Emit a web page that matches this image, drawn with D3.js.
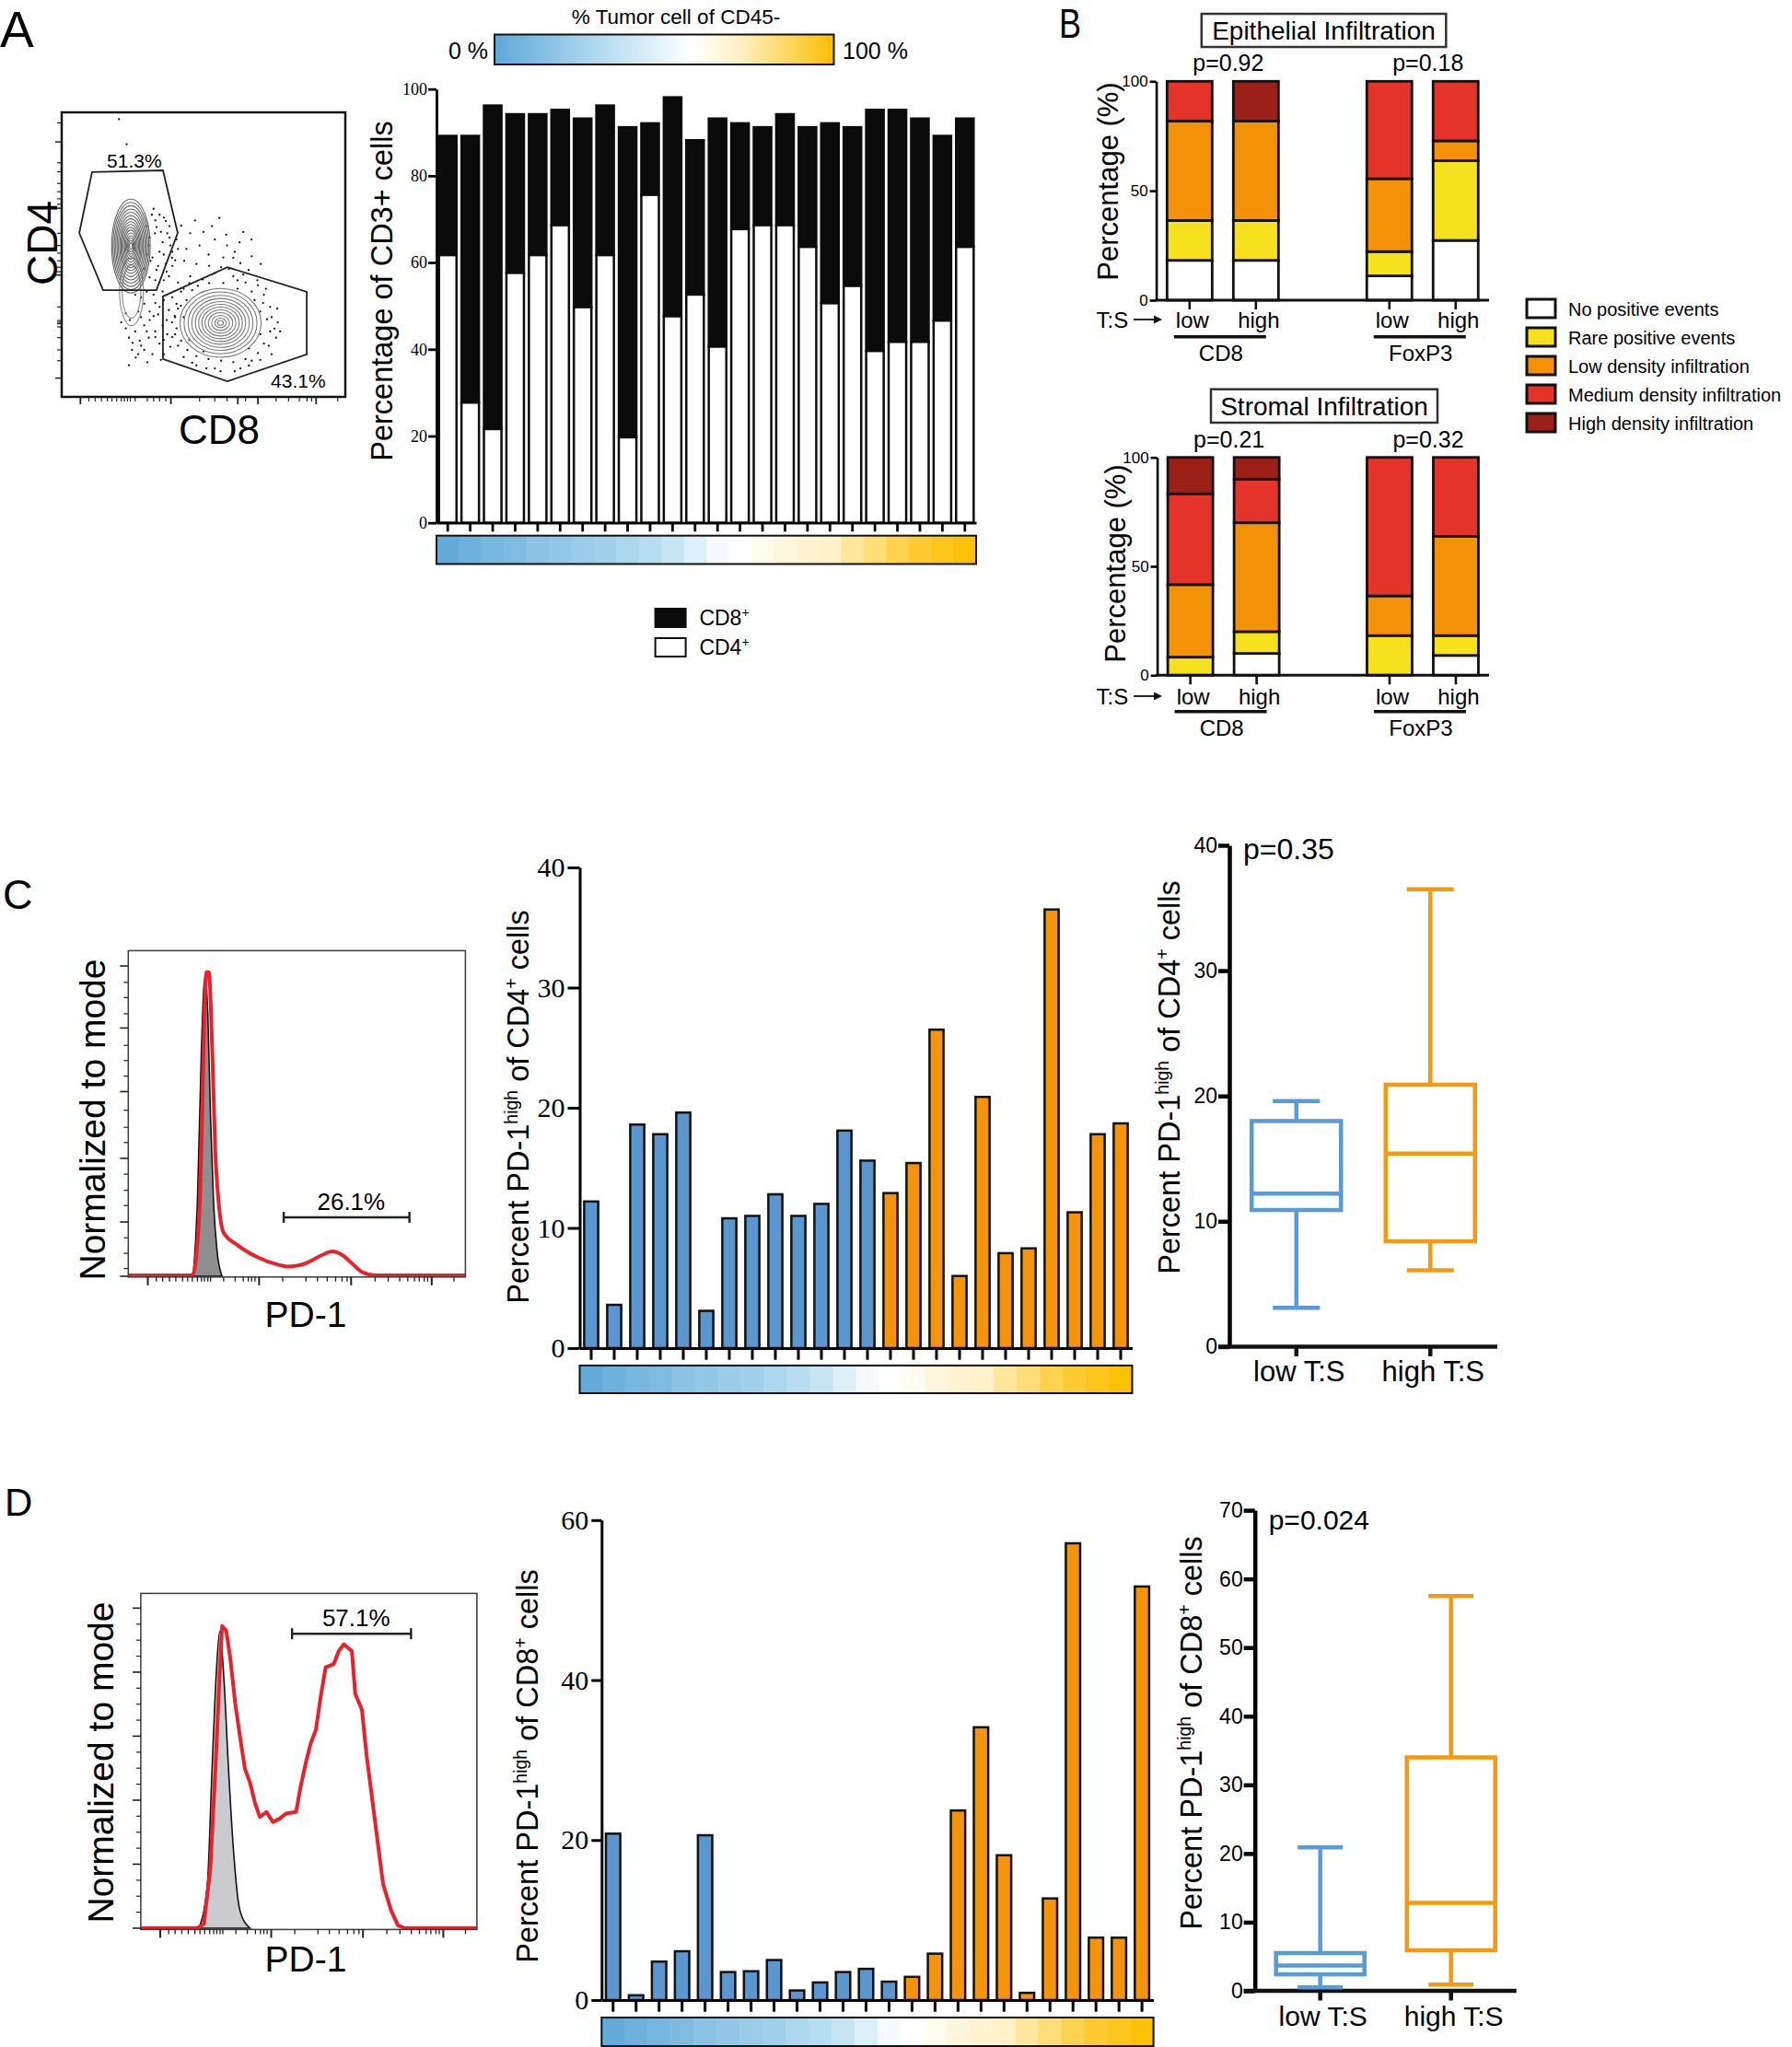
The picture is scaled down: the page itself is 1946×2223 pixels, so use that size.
<!DOCTYPE html>
<html><head><meta charset="utf-8">
<script src="https://cdn.jsdelivr.net/npm/d3@7/dist/d3.min.js"></script>
<style>
html,body{margin:0;padding:0;background:#fff;}
svg{display:block;}
text{fill:#000;}
</style></head><body>
<svg id="fig" width="1946" height="2223" viewBox="0 0 1946 2223"></svg>
<script>
// ======================= DATA =======================
const sampleIds = ["P01","P02","P03","P04","P05","P06","P07","P08","P09","P10","P11","P12","P13","P14","P15","P16","P17","P18","P19","P20","P21","P22","P23","P24"];
const tumorPct  = [2,6,9,12,17,19,22,24,28,33,38,46,54,58,62,66,69,71,78,83,89,93,96,99];
const cd4OfCD3  = [61.7,27.7,21.6,57.6,61.7,68.6,49.7,61.7,19.7,75.6,47.6,52.6,40.6,67.7,68.6,68.6,63.6,50.6,54.6,39.6,41.7,41.7,46.6,63.6];
const cd8OfCD3  = [27.5,61.5,74.6,36.6,32.5,26.6,43.5,34.5,71.5,16.5,50.5,35.6,52.6,24.4,22.6,25.6,27.6,41.5,36.6,55.6,53.5,51.5,42.6,29.6];
const tsGroup   = ["low","low","low","low","low","low","low","low","low","low","low","low","low","high","high","high","high","high","high","high","high","high","high","high"];
const pd1HighCD4 = [12.2,3.6,18.6,17.8,19.6,3.1,10.8,11.0,12.8,11.0,12.0,18.1,15.6,12.9,15.4,26.5,6.0,20.9,7.9,8.3,36.5,11.3,17.8,18.7];
const pd1HighCD8 = [20.8,0.6,4.8,6.1,20.6,3.5,3.6,5.0,1.2,2.2,3.5,3.9,2.3,2.9,5.8,23.7,34.1,18.1,0.9,12.7,57.1,7.8,7.8,51.7];

const ticksA = [0,20,40,60,80,100];
const ticksPD1CD4 = [0,10,20,30,40];
const ticksPD1CD8 = [0,20,40,60];
const ticksBoxCD4 = [0,10,20,30,40];
const ticksBoxCD8 = [0,10,20,30,40,50,60,70];
const ticksB = [0,50,100];

const tsLabels = ["low T:S","high T:S"];
const boxCD4 = [
  {group:"low T:S",  min:3.1, q1:10.9, median:12.2, q3:18.0, max:19.6},
  {group:"high T:S", min:6.1, q1:8.4,  median:15.4, q3:20.9, max:36.5}];
const boxCD8 = [
  {group:"low T:S",  min:0.5, q1:2.4, median:3.7,  q3:5.5,  max:20.9},
  {group:"high T:S", min:0.9, q1:5.9, median:12.8, q3:34.0, max:57.5}];
const pBoxCD4 = "p=0.35";
const pBoxCD8 = "p=0.024";

// Panel B
const infiltrationCats = ["No positive events","Rare positive events","Low density infiltration","Medium density infiltration","High density infiltration"];
const infiltrationKeys = ["none","rare","low","medium","high"];
const bMarkers = ["CD8","FoxP3"];
const bRatios  = ["low","high"];
// order: CD8 low, CD8 high, FoxP3 low, FoxP3 high
const epiNone = [18.2,18.2,11.1,27.3];
const epiRare = [18.2,18.2,11.1,36.4];
const epiLow  = [45.4,45.4,33.3,9.1];
const epiMed  = [18.2,0,44.5,27.2];
const epiHigh = [0,18.2,0,0];
const strNone = [0,10,0,9.1];
const strRare = [8.3,10,18.2,9.1];
const strLow  = [33.3,50,18.2,45.5];
const strMed  = [41.7,20,63.6,36.3];
const strHigh = [16.7,10,0,0];
const epiPvals = ["p=0.92","p=0.18"];
const strPvals = ["p=0.21","p=0.32"];

// Flow plot (panel A), arbitrary 0-100 channel units
const gateCD4 = [[10.7,79.0],[35.7,79.6],[40.9,57.6],[33.4,37.5],[14.6,37.5],[6.2,57.6]];
const gateCD8 = [[35.7,35.3],[58.4,45.6],[86.4,36.9],[86.4,14.9],[58.4,5.5],[35.7,13.3]];
const gateLabels = ["51.3%","43.1%"];
const contourCD4 = {cx:24.4, cy:53, rx:6.8, ry:16.5};
const contourCD4Tail = {cx:24.6, cy:37, rx:4.2, ry:12};
const contourCD8 = {cx:56, cy:26, rx:14.3, ry:12.1};
const contourLevelsCD4 = [1,0.93,0.86,0.79,0.72,0.65,0.58,0.52,0.46,0.4,0.34,0.28,0.22,0.17,0.12,0.07];
const contourLevelsCD8 = [1,0.9,0.8,0.71,0.62,0.54,0.46,0.38,0.3,0.22,0.14,0.07];
const tailLevels = [1,0.78];
const flowDots = [
[20.2,97.6],[22.9,88.8],[21.5,84.5],
[32.4,66.1],[34.5,64],[36.7,61.8],[33.4,59.7],[37.2,57.5],[35.6,54.3],[38.3,53.2],[34.5,51],[38.9,48.9],[36.7,46.7],[33.4,44.6],[37.8,42.4],[34.5,40.2],[31.8,64],[32.9,57.5],[30.7,53.2],[31.3,47.8],[40.5,55.3],[42.1,60.2],
[30,60],[31,56],[33,62],[35,58],[36,50],[37,44],[39,51],[32,49],[34,46],[36,63],[38,60],[39,46],[31,42],[33,41],[36,41],[29,45],[30,50],[40,48],[41,52],[38,56],
[55.6,62.9],[45.3,57.5],[48.6,53.2],[54,55.3],[58.3,53.2],[62.7,54.3],[66.9,55.3],[51.8,50],[60.5,48.9],[67,49.4],[43.2,47.8],[47.5,46.7],[56.2,45.6],[70.2,46.7],[65.9,44.6],[54,43.5],
[50,58],[53,60],[58,57],[61,51],[64,58],[47,62],[44,52],[57,49],[52,46],[63,47],
[41,40.2],[45.3,42.4],[49.7,41.3],[60.5,42.4],[64.8,40.2],[69.2,39.2],[71.3,35.9],[73.5,31.6],[72.4,27.3],[73.5,23],[71.3,18.7],[69.2,15.4],[64.8,13.3],[60.5,12.2],[56.2,12.7],[51.8,13.3],[47.5,14.3],[44.3,16.5],[42.1,19.7],[40.5,24.1],[39.9,28.4],[40.5,32.7],[42.1,37],[76.2,26.2],[75.6,20.8],[47.5,11.1],[54,10],[67,12.7],
[44,34],[46,37.5],[62,38],[68,34],[70,30],[70,22],[66,17],[50,16],[45,20],[43,28],[39,21],[36,15],[33,23],[28,28],[31,30],
[43,38],[48,39],[52,40],[57,40],[62,41],[67,37],[71,33],[74,28],[75,24],[73,18],[70,13],[66,11],[61,9],[56,9],[51,10],[46,12],[43,14],[41,18],[40,22],[42,32],[45,40],[53,43],[59,45],[64,43],[69,41],[72,38],[76,31],[77,23],[74,15],[63,10],
[25.9,35.9],[29.1,32.7],[32.4,35.9],[35.6,37],[34.5,31.6],[37.8,30.5],[32.4,28.4],[35.6,25.1],[38.9,26.2],[29.1,25.1],[25.9,23],[22.6,24.1],[23.7,20.8],[27.5,19.7],[30.7,20.8],[24.8,16.5],[29.1,16.5],[26.1,13.8],[23.7,11.1],[30.2,12.2],[34.5,18.7],[38.3,17.6],[37.2,22],[21,26.2],[22.6,29.4],
[28,35],[30,37],[33,33],[36,34],[39,35],[41,31],[31,27],[34,29],[37,27],[40,28],[27,30],[30,23],[33,21],[36,20],[28,18],[32,15],[35,13],[27,15],[25,19],[24,27]
];
const flowYMajor = [6.6,42.8,66.3,89.6];
const flowYMinor = [96.3,82.3,79.1,75,72.1,69.6,67.7,57.5,53.2,50.5,47.8,45.6,44,31.6,26.8,26.2,25.7,24.6,20.8,16.5,12.7];
const flowXMajor = [6.6,38.5,62.1,69.2,89.7];
const flowXMinor = [9.6,11.8,14,16.1,17.7,19.4,21,22.1,23.2,24.2,25.9,30.2,32.4,34.5,36.7,48.6,54,58.3,64.8,75.6,80,83.8,86.5,88.1,97.3];

// Histograms (0-100 channel, % of mode)
const histCRed = [[0,0.3],[19,0.3],[21,18.4],[21.9,51.3],[22.6,84.3],[23.2,98],[23.9,98],[24.9,73.3],[25.8,40.4],[26.8,23.9],[28.3,14],[32.2,10.2],[38,6.3],[44.9,3.6],[47.3,3.1],[52.7,4.2],[57.6,6.9],[60.5,8],[63.4,6.9],[66.3,4.2],[69.3,1.4],[73.2,0.3],[100,0.3]];
const histCIso = [[19.3,0],[20.5,23.9],[21.7,73.3],[22.4,93],[22.9,96.9],[23.6,84.3],[24.4,51.3],[25.3,23.9],[26.3,8.5],[27.8,0]];
const histDRed = [[0,0],[16.8,0],[18.8,1.4],[20.7,18.8],[22.2,49.7],[23.5,80.5],[24.2,94.4],[25.4,93],[26.6,84.6],[28.1,70.2],[29.5,59.9],[31,49.7],[32.5,45.5],[33.9,39.4],[35.4,34.8],[37.4,36.3],[39.3,33.2],[41.3,34.2],[43.2,35.8],[46.2,36.3],[47.6,44.5],[49.1,51.7],[50.6,57.9],[52.1,62],[53.5,72.2],[55,81.5],[57.4,82.5],[58.9,86.6],[60.4,88.7],[62.8,86.6],[63.8,73.3],[65.8,68.2],[67.2,53.8],[69.6,34.2],[72.1,13.7],[74.5,5.5],[76.5,0.9],[78.5,0],[100,0]];
const histDIso = [[17.3,0],[19.8,13.7],[21.2,49.7],[22.5,80.5],[23.5,92.8],[24.7,78.4],[26.1,49.7],[27.6,24],[29.5,5.5],[32.5,0]];
const histCGate = {from:46.1, to:83.4, level:19, label:"26.1%"};
const histDGate = {from:45, to:80.4, level:92, label:"57.1%"};
const histXMajor = [5.8,38.8,66.1,90];
const histXMinor = [8.3,10.2,12.2,14.1,16.1,17.6,19,20.5,21.7,22.6,23.6,24.4,28.3,31.7,34.1,35.6,36.6,37.6,45.8,52.7,56.1,59,61.5,63.4,64.9,73.2,77.1,80.5,82.9,84.9,86.3,87.8,88.8,96.6];
const histCYMajor = [0,17.5,38,59.5,80,100];
const histCYMinor = [2.5,7.4,12.4,22.8,27.7,32.9,43.1,48,53.5,64.5,69.5,74.4,84.6,89.8,94.7];
const histDYMajor = [0,20,40,60,80,100];
const histDYMinor = [5,10,15,25,30,35,45,50,55,65,70,75,85,90,95];

// ======================= DRAWING =======================
const svg = d3.select("#fig");
const SANS = '"Liberation Sans", Arial, Helvetica, sans-serif';
const SERIF = '"Liberation Serif", "Times New Roman", Times, serif';
const groupColor = {low:"#5b96cf", high:"#f4930c"};
const boxColor = ["#5b9bd5","#f7990e"];
const infColor = {none:"#ffffff", rare:"#f5e11e", low:"#f39208", medium:"#e4332b", high:"#9b2118"};
const tumorColor = d3.scaleLinear().domain([0,30,58,72,100])
  .range(["#5ea7d7","#b0d9ee","#ffffff","#fff0c6","#fbbf00"]);

function text(g, x, y, s, size, anchor, family) {
  return g.append("text").attr("x", x).attr("y", y).attr("font-size", size)
    .attr("text-anchor", anchor || "start").style("font-family", family || SANS).text(s);
}
function vlabel(g, cx, cy, size, parts) {
  const t = g.append("text").attr("transform", `translate(${cx},${cy}) rotate(-90)`)
    .attr("text-anchor","middle").attr("font-size", size).attr("dy","0.35em").style("font-family", SANS);
  let shift = 0;
  parts.forEach(p => {
    const ts = t.append("tspan").text(p.t);
    if (p.sup) { ts.attr("font-size", size*0.6).attr("dy", -size*0.38); shift = size*0.38; }
    else if (shift) { ts.attr("dy", shift); shift = 0; }
  });
  return t;
}
function styleAxis(sel, sw, fs, family) {
  sel.select(".domain").attr("stroke","#000").attr("stroke-width", sw);
  sel.selectAll(".tick line").attr("stroke","#000").attr("stroke-width", sw);
  sel.selectAll(".tick text").style("font-family", family).attr("font-size", fs).attr("fill","#000");
}
function stepBar(g, x, y0, h) {
  const step = x.step(), pad = step * x.paddingInner() / 2;
  sampleIds.forEach((s, i) => {
    g.append("rect").attr("x", x(s) - pad).attr("y", y0).attr("width", step + 0.6).attr("height", h)
      .attr("fill", tumorColor(tumorPct[i]));
  });
  const r = x.range();
  g.append("rect").attr("x", r[0]).attr("y", y0).attr("width", r[1]-r[0]).attr("height", h)
    .attr("fill","none").attr("stroke","#111").attr("stroke-width",2);
}

// Panel letters
text(svg, 0, 51, "A", 55);
svg.append("text").attr("transform","translate(1150,41) scale(0.82,1)").attr("font-size",44).style("font-family", SANS).text("B");
text(svg, 3, 987, "C", 45);
text(svg, 5, 1646, "D", 42);

// ---------------- Panel A: flow plot ----------------
(function(){
  const g = svg.append("g");
  const x = d3.scaleLinear().domain([0,100]).range([67,375]);
  const y = d3.scaleLinear().domain([0,100]).range([431,122]);
  g.selectAll("circle.dot").data(flowDots).join("circle").attr("class","dot")
    .attr("cx", d => x(d[0])).attr("cy", d => y(d[1])).attr("r", 1.15).attr("fill","#111");
  const drawContours = (c, levels, col) => levels.forEach(k => {
    g.append("ellipse").attr("cx", x(c.cx)).attr("cy", y(c.cy))
      .attr("rx", x(c.cx + c.rx*k) - x(c.cx)).attr("ry", y(c.cy) - y(c.cy + c.ry*k))
      .attr("fill","none").attr("stroke", col).attr("stroke-width", 1.1);
  });
  drawContours(contourCD4Tail, tailLevels, "#8a8a8a");
  drawContours(contourCD4, contourLevelsCD4, "#666");
  drawContours(contourCD8, contourLevelsCD8, "#7a7a7a");
  const line = d3.line().x(d => x(d[0])).y(d => y(d[1]));
  [gateCD4, gateCD8].forEach(gt => g.append("path").attr("d", line(gt) + "Z")
    .attr("fill","none").attr("stroke","#222").attr("stroke-width",1.8));
  g.append("rect").attr("x", 67).attr("y", 122).attr("width", 308).attr("height", 309)
    .attr("fill","none").attr("stroke","#111").attr("stroke-width",2.5);
  flowYMajor.forEach(v => g.append("line").attr("x1",60).attr("x2",67).attr("y1",y(v)).attr("y2",y(v)).attr("stroke","#222").attr("stroke-width",1.5));
  flowYMinor.forEach(v => g.append("line").attr("x1",62).attr("x2",67).attr("y1",y(v)).attr("y2",y(v)).attr("stroke","#222").attr("stroke-width",1.2));
  flowXMajor.forEach(v => g.append("line").attr("y1",431).attr("y2",439).attr("x1",x(v)).attr("x2",x(v)).attr("stroke","#222").attr("stroke-width",1.8));
  flowXMinor.forEach(v => g.append("line").attr("y1",431).attr("y2",436).attr("x1",x(v)).attr("x2",x(v)).attr("stroke","#222").attr("stroke-width",1.2));
  text(g, x(25.6), 182, gateLabels[0], 21, "middle");
  text(g, x(83.4), 421, gateLabels[1], 21, "middle");
  vlabel(g, 46, 264, 46, [{t:"CD4"}]);
  text(g, 238, 482, "CD8", 44, "middle");
})();

// ---------------- Panel A: stacked bar ----------------
(function(){
  const g = svg.append("g");
  const grad = svg.append("defs").append("linearGradient").attr("id","tumorGrad");
  [0,15,30,45,58,65,72,86,100].forEach(v => grad.append("stop").attr("offset", v + "%").attr("stop-color", tumorColor(v)));
  g.append("rect").attr("x",537).attr("y",37.5).attr("width",368.5).attr("height",32.5)
    .attr("fill","url(#tumorGrad)").attr("stroke","#111").attr("stroke-width",2);
  text(g, 734, 26, "% Tumor cell of CD45-", 22.5, "middle");
  text(g, 530, 64, "0 %", 25, "end");
  text(g, 915, 64, "100 %", 25, "start");

  const x = d3.scaleBand().domain(sampleIds).range([474,1060]).paddingInner(0.22).paddingOuter(0.11);
  const y = d3.scaleLinear().domain([0,100]).range([567.7,96.7]);
  sampleIds.forEach((s,i) => {
    g.append("rect").attr("x", x(s)).attr("width", x.bandwidth())
      .attr("y", y(cd4OfCD3[i] + cd8OfCD3[i])).attr("height", y(cd4OfCD3[i]) - y(cd4OfCD3[i] + cd8OfCD3[i]))
      .attr("fill","#0b0b0b").attr("stroke","#0b0b0b").attr("stroke-width",2.5);
    g.append("rect").attr("x", x(s)).attr("width", x.bandwidth())
      .attr("y", y(cd4OfCD3[i])).attr("height", y(0) - y(cd4OfCD3[i]))
      .attr("fill","#fff").attr("stroke","#0b0b0b").attr("stroke-width",2.5);
  });
  const ya = g.append("g").attr("transform","translate(474,0)")
    .call(d3.axisLeft(y).tickValues(ticksA).tickSize(9).tickSizeOuter(0).tickPadding(1));
  styleAxis(ya, 2.8, 18, SERIF);
  const xa = g.append("g").attr("transform",`translate(0,${y(0)})`)
    .call(d3.axisBottom(x).tickSize(9.6).tickSizeOuter(0).tickFormat(""));
  styleAxis(xa, 2.8, 0, SANS);
  stepBar(g, x, 581.7, 30.8);
  vlabel(g, 415, 316, 32.5, [{t:"Percentage of CD3+ cells"}]);
  g.append("rect").attr("x",711.6).attr("y",661).attr("width",33).attr("height",20).attr("fill","#0b0b0b").attr("stroke","#0b0b0b").attr("stroke-width",2);
  g.append("rect").attr("x",711.6).attr("y",693).attr("width",33).attr("height",20).attr("fill","#fff").attr("stroke","#0b0b0b").attr("stroke-width",2);
  [["CD8",678.6],["CD4",710.7]].forEach(([t,by]) => {
    const tx = g.append("text").attr("x",759.4).attr("y",by).attr("font-size",23).style("font-family", SANS);
    tx.append("tspan").text(t);
    tx.append("tspan").attr("font-size",14).attr("dy",-9).text("+");
  });
})();

// ---------------- Panel B ----------------
function drawStackPanel(cfg) {
  const g = svg.append("g");
  const y = d3.scaleLinear().domain([0,100]).range([cfg.yBottom, cfg.yTop]);
  const outer = d3.scalePoint().domain(bMarkers).range([cfg.axisX, 1617]).padding(0.333);
  const inner = d3.scalePoint().domain(bRatios).range([-36,36]);
  const bw = 49;
  const rows = [];
  bMarkers.forEach((m, mi) => bRatios.forEach((r, ri) => {
    const k = mi*2 + ri;
    rows.push({marker:m, ratio:r, none:cfg.none[k], rare:cfg.rare[k], low:cfg.low[k], medium:cfg.medium[k], high:cfg.high[k]});
  }));
  const series = d3.stack().keys(infiltrationKeys)(rows);
  series.forEach(layer => layer.forEach(d => {
    if (d[1] - d[0] <= 0) return;
    const cx = outer(d.data.marker) + inner(d.data.ratio);
    g.append("rect").attr("x", cx - bw/2).attr("width", bw)
      .attr("y", y(d[1])).attr("height", y(d[0]) - y(d[1]))
      .attr("fill", infColor[layer.key]).attr("stroke","#111").attr("stroke-width",2.8);
  }));
  const ya = g.append("g").attr("transform",`translate(${cfg.axisX},0)`)
    .call(d3.axisLeft(y).tickValues(ticksB).tickSize(7).tickSizeOuter(0).tickPadding(2));
  styleAxis(ya, 2.6, 17, SANS);
  g.append("line").attr("x1", cfg.axisX - 1.3).attr("x2", 1617).attr("y1", y(0)).attr("y2", y(0)).attr("stroke","#111").attr("stroke-width",3);
  rows.forEach(r => {
    const cx = outer(r.marker) + inner(r.ratio);
    g.append("line").attr("x1",cx).attr("x2",cx).attr("y1",y(0)).attr("y2",y(0)+10).attr("stroke","#111").attr("stroke-width",2.6);
    text(g, cx + 3, cfg.labBase, r.ratio, 24, "middle");
  });
  text(g, 1190.6, cfg.labBase, "T:S", 24, "start");
  const ay = cfg.labBase - 9;
  g.append("line").attr("x1",1231).attr("x2",1256).attr("y1",ay).attr("y2",ay).attr("stroke","#111").attr("stroke-width",1.8);
  g.append("path").attr("d",`M1262,${ay} L1253,${ay-4.5} L1253,${ay+4.5} Z`).attr("fill","#111");
  bMarkers.forEach(m => {
    const cx = outer(m) - 3;
    g.append("line").attr("x1",cx-50).attr("x2",cx+50).attr("y1",cfg.lineY).attr("y2",cfg.lineY).attr("stroke","#111").attr("stroke-width",3.5);
    text(g, cx + 1, cfg.nameBase, m, 24, "middle");
  });
  g.append("rect").attr("x", cfg.title.x0).attr("y", cfg.title.y0).attr("width", cfg.title.x1 - cfg.title.x0).attr("height", cfg.title.y1 - cfg.title.y0)
    .attr("fill","#fff").attr("stroke","#333").attr("stroke-width",2.5);
  text(g, (cfg.title.x0 + cfg.title.x1)/2, cfg.title.base, cfg.title.text, 28, "middle");
  cfg.pvals.forEach((p, i) => text(g, outer(bMarkers[i]) + 6, cfg.pBase, p, 25, "middle"));
  vlabel(g, cfg.yLab[0], cfg.yLab[1], 31, [{t:"Percentage (%)"}]);
}
drawStackPanel({yBottom:326, yTop:88.3, axisX:1255.6,
  none:epiNone, rare:epiRare, low:epiLow, medium:epiMed, high:epiHigh,
  labBase:356, lineY:365.7, nameBase:391.7, pBase:76.7, pvals:epiPvals,
  title:{x0:1304.8, x1:1570.3, y0:15, y1:51, base:43.3, text:"Epithelial Infiltration"},
  yLab:[1203,197]});
drawStackPanel({yBottom:733.3, yTop:496.7, axisX:1256.6,
  none:strNone, rare:strRare, low:strLow, medium:strMed, high:strHigh,
  labBase:765, lineY:772.7, nameBase:799.3, pBase:486, pvals:strPvals,
  title:{x0:1315, x1:1561, y0:422.7, y1:459, base:450.7, text:"Stromal Infiltration"},
  yLab:[1211,612]});
(function(){
  const g = svg.append("g");
  infiltrationKeys.forEach((k, i) => {
    const yy = 325 + i*31;
    g.append("rect").attr("x",1658).attr("y",yy).attr("width",31).attr("height",20)
      .attr("fill", infColor[k]).attr("stroke","#111").attr("stroke-width",3);
    text(g, 1703, yy + 17.5, infiltrationCats[i], 20, "start");
  });
})();

// ---------------- Histograms ----------------
function drawHist(cfg) {
  const g = svg.append("g");
  const x = d3.scaleLinear().domain([0,100]).range([cfg.bx0, cfg.bx1]);
  const y = d3.scaleLinear().domain([0,100]).range([cfg.y0, cfg.y100]);
  const clipId = "clip" + cfg.id;
  g.append("clipPath").attr("id", clipId).append("rect")
    .attr("x", cfg.bx0).attr("y", cfg.by0).attr("width", cfg.bx1 - cfg.bx0).attr("height", cfg.by1 - cfg.by0);
  const cg = g.append("g").attr("clip-path", `url(#${clipId})`);
  const area = d3.area().x(d => x(d[0])).y0(y(0)).y1(d => y(d[1])).curve(d3.curveMonotoneX);
  cg.append("path").attr("d", area(cfg.iso)).attr("fill", cfg.isoFill).attr("stroke","#111").attr("stroke-width",1.6);
  const line = d3.line().x(d => x(d[0])).y(d => y(d[1])).curve(cfg.curve);
  cg.append("path").attr("d", line(cfg.red)).attr("fill","none").attr("stroke","#e8212a")
    .attr("stroke-width", cfg.redW).attr("stroke-linejoin","round");
  g.append("rect").attr("x", cfg.bx0).attr("y", cfg.by0).attr("width", cfg.bx1 - cfg.bx0).attr("height", cfg.by1 - cfg.by0)
    .attr("fill","none").attr("stroke","#3a3a3a").attr("stroke-width",1.5);
  cfg.yMajor.forEach(v => g.append("line").attr("x1",cfg.bx0-9).attr("x2",cfg.bx0).attr("y1",y(v)).attr("y2",y(v)).attr("stroke","#222").attr("stroke-width",1.6));
  cfg.yMinor.forEach(v => g.append("line").attr("x1",cfg.bx0-5).attr("x2",cfg.bx0).attr("y1",y(v)).attr("y2",y(v)).attr("stroke","#222").attr("stroke-width",1.2));
  histXMajor.forEach(v => g.append("line").attr("x1",x(v)).attr("x2",x(v)).attr("y1",cfg.by1).attr("y2",cfg.by1+9).attr("stroke","#222").attr("stroke-width",2));
  histXMinor.forEach(v => g.append("line").attr("x1",x(v)).attr("x2",x(v)).attr("y1",cfg.by1).attr("y2",cfg.by1+5).attr("stroke","#222").attr("stroke-width",1.3));
  const gy = y(cfg.gate.level), gx0 = x(cfg.gate.from), gx1 = x(cfg.gate.to);
  g.append("line").attr("x1",gx0).attr("x2",gx1).attr("y1",gy).attr("y2",gy).attr("stroke","#222").attr("stroke-width",2.4);
  [gx0, gx1].forEach(xx => g.append("line").attr("x1",xx).attr("x2",xx).attr("y1",gy-6).attr("y2",gy+6).attr("stroke","#222").attr("stroke-width",2.4));
  text(g, (gx0+gx1)/2 + 5, gy - 8, cfg.gate.label, 26, "middle");
  vlabel(g, cfg.ylab[0], cfg.ylab[1], 39, [{t:"Normalized to mode"}]);
  text(g, 332, cfg.xlabBase, "PD-1", 39, "middle");
}
drawHist({id:"C", bx0:139.3, bx1:505.4, by0:1032.4, by1:1386.8, y0:1386, y100:1049,
  red:histCRed, iso:histCIso, isoFill:"#8e8e8e", curve:d3.curveMonotoneX, redW:4,
  gate:histCGate, yMajor:histCYMajor, yMinor:histCYMinor, ylab:[100,1216], xlabBase:1440.5});
drawHist({id:"D", bx0:152.9, bx1:517.9, by0:1730.4, by1:2095.4, y0:2094, y100:1746.4,
  red:histDRed, iso:histDIso, isoFill:"#cbcbcf", curve:d3.curveLinear, redW:4,
  gate:histDGate, yMajor:histDYMajor, yMinor:histDYMinor, ylab:[109,1914], xlabBase:2141});

// ---------------- PD-1 bar charts ----------------
function drawPD1Bars(cfg) {
  const g = svg.append("g");
  const x = d3.scaleBand().domain(sampleIds).range([cfg.xa, cfg.xb]).paddingInner(cfg.pad).paddingOuter(cfg.pad/2);
  const y = d3.scaleLinear().domain(cfg.domain).range([cfg.y0, cfg.y1]);
  sampleIds.forEach((s,i) => {
    g.append("rect").attr("x", x(s)).attr("width", x.bandwidth())
      .attr("y", y(cfg.values[i])).attr("height", y(0) - y(cfg.values[i]))
      .attr("fill", groupColor[tsGroup[i]]).attr("stroke","#111").attr("stroke-width",2.5);
  });
  const ya = g.append("g").attr("transform",`translate(${cfg.xa},0)`)
    .call(d3.axisLeft(y).tickValues(cfg.ticks).tickSize(cfg.tick).tickSizeOuter(0).tickPadding(3));
  styleAxis(ya, 3, 30, SERIF);
  const xa = g.append("g").attr("transform",`translate(0,${y(0)})`)
    .call(d3.axisBottom(x).tickSize(12.7).tickSizeOuter(0).tickFormat(""));
  styleAxis(xa, 3, 0, SANS);
  stepBar(g, x, cfg.stepY, cfg.stepH);
  vlabel(g, cfg.ylab[0], cfg.ylab[1], 32.5, [{t:"Percent PD-1"},{t:"high", sup:true},{t:" of " + cfg.cell},{t:"+", sup:true},{t:" cells"}]);
}
drawPD1Bars({xa:629.5, xb:1229.5, pad:0.39, domain:[0,40], y0:1464, y1:942, values:pd1HighCD4,
  ticks:ticksPD1CD4, tick:13, stepY:1482.9, stepH:30.1, cell:"CD4", ylab:[563,1202]});
drawPD1Bars({xa:653.3, xb:1252.6, pad:0.375, domain:[0,60], y0:2172, y1:1650.8, values:pd1HighCD8,
  ticks:ticksPD1CD8, tick:11, stepY:2191, stepH:31, cell:"CD8", ylab:[573,1918]});

// ---------------- Box plots ----------------
function drawBox(cfg) {
  const g = svg.append("g");
  const y = d3.scaleLinear().domain(cfg.domain).range([cfg.y0, cfg.y1]);
  const x = d3.scalePoint().domain(tsLabels).range([cfg.xa, cfg.xb]).padding(0.5);
  const ya = g.append("g").attr("transform",`translate(${cfg.xa},0)`)
    .call(d3.axisLeft(y).tickValues(cfg.ticks).tickSize(12).tickSizeOuter(0).tickPadding(1));
  styleAxis(ya, 4.5, 23, SANS);
  g.append("line").attr("x1", cfg.xa - 12).attr("x2", cfg.xb).attr("y1", y(0)).attr("y2", y(0)).attr("stroke","#111").attr("stroke-width",4.5);
  tsLabels.forEach(l => {
    g.append("line").attr("x1", x(l)).attr("x2", x(l)).attr("y1", y(0)).attr("y2", y(0) + 10.5).attr("stroke","#111").attr("stroke-width",4.5);
    text(g, x(l) + 3, cfg.labBase, l, cfg.labFs, "middle");
  });
  cfg.stats.forEach((s, i) => {
    const cx = x(s.group), col = boxColor[i], sw = 4.5;
    const ln = (x1,y1,x2,y2) => g.append("line").attr("x1",x1).attr("y1",y1).attr("x2",x2).attr("y2",y2).attr("stroke",col).attr("stroke-width",sw);
    ln(cx, y(s.max), cx, y(s.q3));
    ln(cx, y(s.q1), cx, y(s.min));
    ln(cx - cfg.cap/2, y(s.max), cx + cfg.cap/2, y(s.max));
    ln(cx - cfg.cap/2, y(s.min), cx + cfg.cap/2, y(s.min));
    g.append("rect").attr("x", cx - cfg.bw/2).attr("width", cfg.bw).attr("y", y(s.q3)).attr("height", y(s.q1) - y(s.q3))
      .attr("fill","none").attr("stroke",col).attr("stroke-width",sw);
    ln(cx - cfg.bw/2, y(s.median), cx + cfg.bw/2, y(s.median));
  });
  text(g, cfg.xa + 15, cfg.pBase, cfg.p, cfg.pFs, "start");
  vlabel(g, cfg.ylab[0], cfg.ylab[1], 32.5, [{t:"Percent PD-1"},{t:"high", sup:true},{t:" of " + cfg.cell},{t:"+", sup:true},{t:" cells"}]);
}
drawBox({xa:1335, xb:1626, domain:[0,40], y0:1462.4, y1:918, ticks:ticksBoxCD4, stats:boxCD4,
  bw:97, cap:51, labBase:1500.4, labFs:31, p:pBoxCD4, pBase:933, pFs:32, cell:"CD4", ylab:[1270,1170]});
drawBox({xa:1362.7, xb:1646.7, domain:[0,70], y0:2162, y1:1640.1, ticks:ticksBoxCD8, stats:boxCD8,
  bw:96, cap:49, labBase:2200.3, labFs:30, p:pBoxCD8, pBase:1660.8, pFs:30, cell:"CD8", ylab:[1294,1882]});
</script>
</body></html>
